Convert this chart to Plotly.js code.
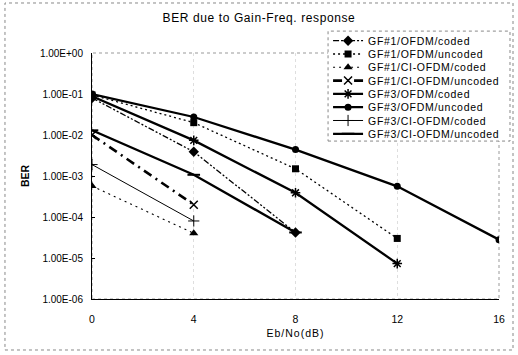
<!DOCTYPE html>
<html><head><meta charset="utf-8">
<script src="https://cdn.plot.ly/plotly-3.0.1.min.js"></script>
<style>
html,body{margin:0;padding:0;background:#fff;}
#chart{width:518px;height:355px;}
.legendtext{letter-spacing:0.7px;}
.gtitle{letter-spacing:0.6px;}
.xtitle{letter-spacing:1px;}
</style>
</head><body><div id="chart"></div><script>
// ---- data ----
const ebno = [0, 4, 8, 12, 16];
const seriesNames = [
  'GF#1/OFDM/coded', 'GF#1/OFDM/uncoded', 'GF#1/CI-OFDM/coded', 'GF#1/CI-OFDM/uncoded',
  'GF#3/OFDM/coded', 'GF#3/OFDM/uncoded', 'GF#3/CI-OFDM/coded', 'GF#3/CI-OFDM/uncoded'
];
const gf1OfdmCoded     = [0.08, 3.9e-3, 4.2e-5];
const gf1OfdmUncoded   = [0.095, 0.020, 1.5e-3, 3.0e-5];
const gf1CiCoded       = [5.7e-4, 4.0e-5];
const gf1CiUncoded     = [1.0e-2, 2.0e-4];
const gf3OfdmCoded     = [0.088, 7.4e-3, 3.9e-4, 7.3e-6];
const gf3OfdmUncoded   = [0.1, 0.0275, 4.4e-3, 5.6e-4, 2.8e-5];
const gf3CiCoded       = [1.9e-3, 8.0e-5];
const gf3CiUncoded     = [1.3e-2, 1.07e-3, 4.2e-5];
const yTickVals  = [1, 1e-1, 1e-2, 1e-3, 1e-4, 1e-5, 1e-6];
const yTickText  = ['1.00E+00', '1.00E-01', '1.00E-02', '1.00E-03', '1.00E-04', '1.00E-05', '1.00E-06'];
const xTickVals  = [0, 4, 8, 12, 16];

const allY = [gf1OfdmCoded, gf1OfdmUncoded, gf1CiCoded, gf1CiUncoded,
              gf3OfdmCoded, gf3OfdmUncoded, gf3CiCoded, gf3CiUncoded];

const styles = [
  {line:{color:'#000', width:1.3, dash:'6px,2px,2px,2px,2px,2px'}, marker:{symbol:'diamond', size:8}},
  {line:{color:'#000', width:1.3, dash:'2px,3px'}, marker:{symbol:'square', size:7}},
  {line:{color:'#000', width:1.1, dash:'2px,4px'}, marker:{symbol:'triangle-up', size:8}},
  {line:{color:'#000', width:2.6, dash:'9px,5px,2px,5px'}, marker:{symbol:'x-thin-open', size:8, line:{width:1.5, color:'#000'}}},
  {line:{color:'#000', width:2.3}, marker:{symbol:'asterisk-open', size:8, line:{width:1.5, color:'#000'}}},
  {line:{color:'#000', width:2.3}, marker:{symbol:'circle', size:7}},
  {line:{color:'#000', width:1}, marker:{symbol:'cross-thin-open', size:8, line:{width:1, color:'#000'}}},
  {line:{color:'#000', width:2.3}, marker:{symbol:'line-ew-open', size:9, line:{width:2, color:'#000'}}}
];

const traces = allY.map((ys, i) => ({
  type: 'scatter', mode: 'lines+markers',
  name: seriesNames[i],
  x: ebno.slice(0, ys.length), y: ys,
  line: styles[i].line,
  marker: Object.assign({color:'#000'}, styles[i].marker)
}));

const font = 'Arial, "Liberation Sans", sans-serif';
const layout = {
  width: 518, height: 355,
  margin: {l: 92, r: 19, t: 53, b: 56},
  paper_bgcolor: '#fff', plot_bgcolor: '#fff',
  font: {family: font, color: '#000', size: 10},
  title: {text: 'BER due to Gain-Freq. response', font: {size: 12, family: font, color: '#000'},
          x: 0.5, xref: 'container', y: 0.949, yref: 'container', yanchor: 'middle', xanchor: 'center'},
  showlegend: true,
  legend: {x: 0.58, xanchor: 'left', y: 1.109, yanchor: 'top',
           bgcolor: 'rgba(0,0,0,0)', borderwidth: 0, font: {size: 10.5, family: font},
           tracegroupgap: 0},
  xaxis: {type: 'linear', range: [0, 16], tickvals: xTickVals, ticktext: xTickVals.map(String),
          showline: true, linecolor: '#000', linewidth: 1, ticks: '', zeroline: false,
          showgrid: true, gridcolor: '#dedede', griddash: 'dot', gridwidth: 1,
          ticklabelstandoff: 10, tickfont: {size: 10.5},
          title: {text: 'Eb/No(dB)', font: {size: 10.5}, standoff: 6}},
  yaxis: {type: 'log', range: [-6, 0], tickvals: yTickVals, ticktext: yTickText,
          showline: true, linecolor: '#000', linewidth: 1, ticks: 'inside', ticklen: 3, tickcolor: '#000',
          showgrid: false, zeroline: false, ticklabelstandoff: 6, tickfont: {size: 10},
          title: {text: '<b>BER</b>', font: {size: 10.5}, standoff: 8}},
  shapes: [
    {type:'rect', xref:'paper', yref:'paper', x0:0, x1:1, y0:0, y1:1, layer:'below',
     line:{color:'#999', width:1, dash:'dot'}},
    {type:'rect', xref:'paper', yref:'paper', x0:-0.2138, x1:1.0344, y0:-0.2073, y1:1.2033, layer:'below',
     line:{color:'#888', width:1, dash:'dot'}},
    {type:'rect', xref:'paper', yref:'paper', x0:0.58, x1:1.027, y0:0.642, y1:1.089, layer:'above',
     fillcolor:'#fff', line:{color:'#888', width:1, dash:'dot'}}
  ]
};

const gd = document.getElementById('chart');
Plotly.newPlot(gd, traces, layout, {displayModeBar: false, staticPlot: true}).then(() => {
  const items = gd.querySelectorAll('.legend .traces');
  if (!items.length) return;
  const m = /translate\(\s*([-\d.]+)[ ,]+([-\d.]+)\s*\)/.exec(items[0].getAttribute('transform') || '');
  if (!m) return;
  const x0 = parseFloat(m[1]), y0 = parseFloat(m[2]);
  items.forEach((g, i) => g.setAttribute('transform', `translate(${x0},${y0 + i * 13.3})`));
});
</script></body></html>
